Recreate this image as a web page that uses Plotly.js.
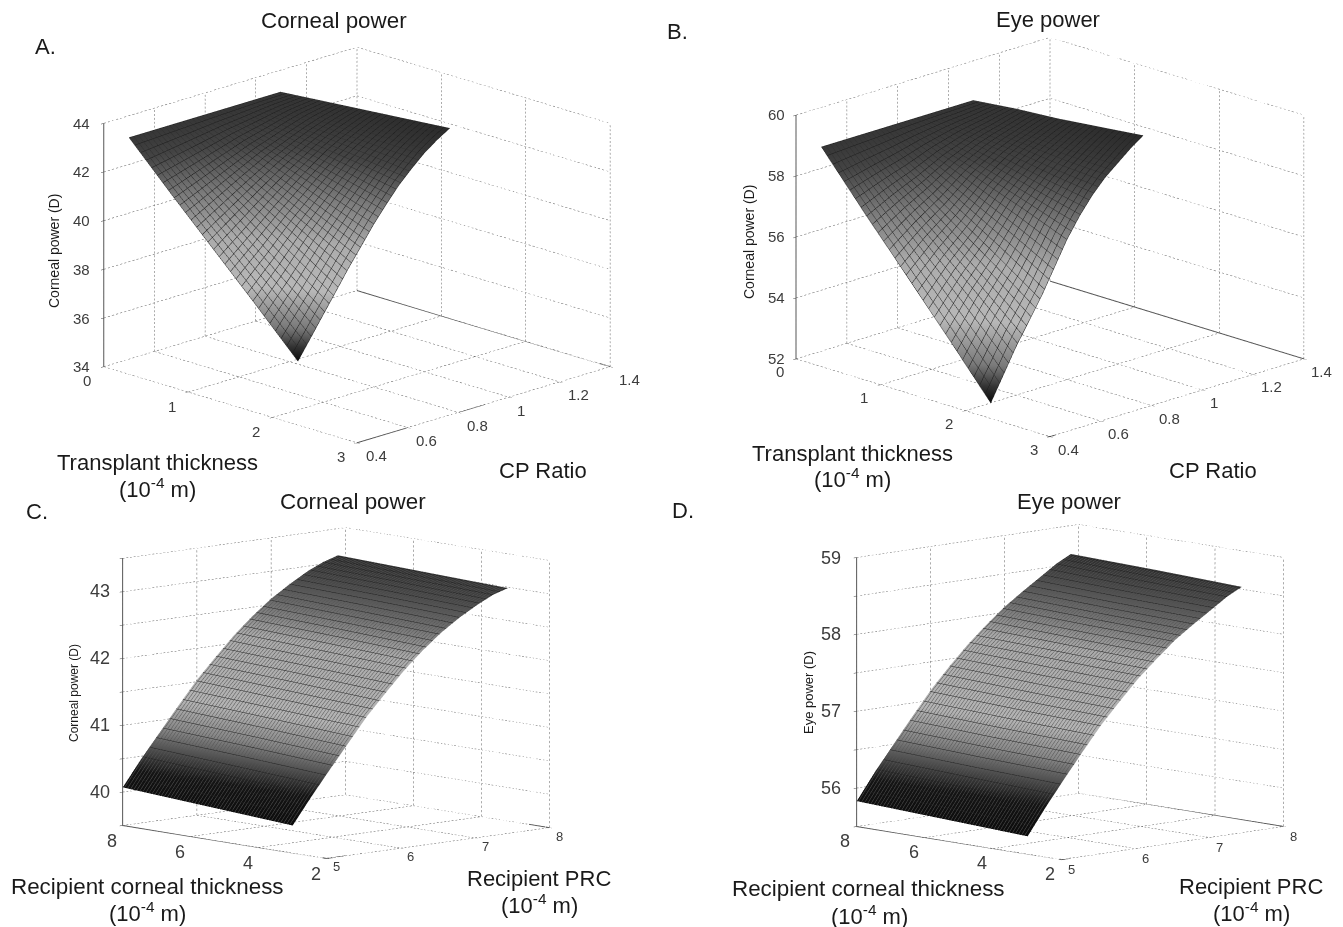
<!DOCTYPE html>
<html><head><meta charset="utf-8">
<script src="https://cdn.plot.ly/plotly-3.0.1.min.js"></script>
<style>html,body{margin:0;padding:0;background:#fff}#chart{width:1343px;height:927px}</style>
</head><body><div id="chart"></div>
<script>
// ---- data ----
const thicknessAB = [0, 0.5, 1, 1.5, 2];
const ratioAB = [0.5,0.55,0.6,0.65,0.7,0.75,0.8,0.85,0.9,0.95,1.0,1.05,1.1];
const cornealA = [
 [43.1,43.1,43.1,43.1,43.1,43.1,43.1,43.1,43.1,43.1,43.1,43.1,43.1],
 [41.3,41.5,41.7,41.9,42.1,42.3,42.5,42.65,42.8,42.96,43.1,43.18,43.25],
 [39.55,39.95,40.35,40.75,41.15,41.53,41.9,42.23,42.55,42.82,43.05,43.25,43.4],
 [37.8,38.38,38.95,39.58,40.2,40.75,41.3,41.82,42.3,42.67,43.0,43.3,43.55],
 [36.0,36.8,37.6,38.4,39.2,39.95,40.7,41.37,42.0,42.52,43.0,43.38,43.7]];
const eyeB = [
 [58.7,58.7,58.7,58.7,58.7,58.7,58.7,58.7,58.7,58.7,58.7,58.7,58.7],
 [57.0,57.2,57.4,57.58,57.75,57.95,58.15,58.3,58.45,58.56,58.65,58.76,58.85],
 [55.35,55.75,56.15,56.5,56.85,57.25,57.65,57.97,58.25,58.47,58.65,58.82,58.95],
 [53.7,54.3,54.9,55.42,55.95,56.55,57.15,57.6,58.0,58.32,58.6,58.87,59.1],
 [52.0,52.8,53.6,54.3,55.0,55.8,56.6,57.25,57.8,58.25,58.6,58.95,59.25]];
const thicknessCD = [3, 5.5, 8];
const prcCD = [5,5.25,5.5,5.75,6,6.25,6.5,6.75,7,7.25,7.5,7.7,7.9];
const cornealC = [
 [39.91,40.30,40.67,41.03,41.39,41.70,42.0,42.26,42.49,42.68,42.84,42.95,43.02],
 [39.99,40.38,40.75,41.11,41.46,41.77,42.06,42.32,42.54,42.73,42.89,42.99,43.06],
 [40.07,40.46,40.82,41.18,41.53,41.83,42.12,42.37,42.59,42.77,42.93,43.03,43.1]];
const eyeD = [
 [55.73,56.08,56.41,56.73,57.04,57.31,57.57,57.79,58.0,58.17,58.33,58.46,58.56],
 [55.78,56.13,56.45,56.77,57.08,57.35,57.61,57.83,58.03,58.2,58.36,58.49,58.6],
 [55.83,56.18,56.5,56.82,57.13,57.40,57.65,57.87,58.07,58.24,58.4,58.53,58.63]];
const xTicksAB = [0,1,2,3];
const yTicksAB = [0.4,0.6,0.8,1,1.2,1.4];
const zTicksA = [34,36,38,40,42,44];
const zTicksB = [52,54,56,58,60];
const xTicksCD = [2,4,6,8];
const yTicksCD = [5,6,7,8];
const zTicksC = [39.5,40,40.5,41,41.5,42,42.5,43,43.5];
const zLabelsC = ['','40','','41','','42','','43',''];
const zTicksD = [55.5,56,56.5,57,57.5,58,58.5,59];
const zLabelsD = ['','56','','57','','58','','59'];

// ---- styling / layout ----
const W=1343,H=927;
const FONT='"Liberation Sans", Arial, sans-serif';
const darkBands=[[0,'#0c0c0c'],[0.06,'#333'],[0.14,'#7a7a7a'],[0.3,'#b8b8b8'],[0.5,'#acacac'],[0.68,'#7c7c7c'],[0.84,'#444'],[1,'#2a2a2a']];
const stepBands=[[0,'#0c0c0c'],[0.12,'#141414'],[0.2,'#444'],[0.3,'#888'],[0.42,'#b4b4b4'],[0.7,'#acacac'],[0.82,'#727272'],[0.92,'#484848'],[1,'#2e2e2e']];
const transpose=m=>m[0].map((_,i)=>m.map(r=>r[i]));

const panels=[
 {id:'scene',cx:356.5,cy:245,hw:340,hh:217,eye:[1,-1,0.446],aspect:[1.65,1.65,1.176],dots:62,
  xv:thicknessAB,yv:ratioAB,z:cornealA,xr:[0,3],yr:[0.4,1.4],zr:[34,44],
  xt:xTicksAB,yt:yTicksAB,zt:zTicksA,zl:zTicksA.map(String),cs:darkBands,
  nx:2/30,ny:0.6/34,cx1:'#1c1c1c',cy1:'#303030',
  sx:[-16,-14],sy:[7,-13],sz:-11,fx:15,fy:15,fz:15},
 {id:'scene2',cx:1049.5,cy:236.5,hw:293,hh:225,eye:[1,-1,0.455],aspect:[1.596,1.596,1.138],dots:62,
  xv:thicknessAB,yv:ratioAB,z:eyeB,xr:[0,3],yr:[0.4,1.4],zr:[52,60],
  xt:xTicksAB,yt:yTicksAB,zt:zTicksB,zl:zTicksB.map(String),cs:darkBands,
  nx:2/30,ny:0.6/34,cx1:'#1c1c1c',cy1:'#303030',
  sx:[-16,-13],sy:[6,-13],sz:-9,fx:15,fy:15,fz:15},
 {id:'scene3',cx:335.5,cy:692.5,hw:300,hh:230,eye:[0.734,-0.679,0.151],aspect:[1.306,1.319,1.175],dots:60,
  xv:thicknessCD,yv:prcCD,z:cornealC,xr:[8,2],yr:[5,8],zr:[39.5,43.5],
  xt:xTicksCD,yt:yTicksCD,zt:zTicksC,zl:zLabelsC,cs:stepBands,
  nx:0.09,ny:0.09,cx1:'#555',cy1:'#1e1e1e',
  sx:[-10,-16],sy:[5,-9],sz:-10,fx:18,fy:13,fz:18},
 {id:'scene4',cx:1069.5,cy:692,hw:273,hh:230,eye:[0.72,-0.694,0.157],aspect:[1.285,1.338,1.184],dots:60,
  xv:thicknessCD,yv:prcCD,z:eyeD,xr:[8,2],yr:[5,8],zr:[55.5,59],
  xt:xTicksCD,yt:yTicksCD,zt:zTicksD,zl:zLabelsD,cs:stepBands,
  nx:0.09,ny:0.09,cx1:'#555',cy1:'#1e1e1e',
  sx:[-11,-14],sy:[5,-10],sz:-13,fx:18,fy:13,fz:18}
];

const labels=[
 ['A.',45,46,22,0],['Corneal power',334,21,22.4,0],['Transplant thickness',157,462,22,0],['(10<sup>-4</sup> m)',157,488,22,0],['CP Ratio',543,470,22,0],['Corneal power (D)',54,251,14,-90],
 ['B.',677,32,22,0],['Eye power',1048,19,22,0],['Transplant thickness',852,453,22,0],['(10<sup>-4</sup> m)',852,478,22,0],['CP Ratio',1213,470,22,0],['Corneal power (D)',749,242,14,-90],
 ['C.',37,512,22,0],['Corneal power',353,501,22.4,0],['Recipient corneal thickness',147,886,22.4,0],['(10<sup>-4</sup> m)',147,912,22,0],['Recipient PRC',539,878,22,0],['(10<sup>-4</sup> m)',539,904,22,0],['Corneal power (D)',74,693,12,-90],
 ['D.',683,510,22,0],['Eye power',1069,501,22,0],['Recipient corneal thickness',868,888,22.4,0],['(10<sup>-4</sup> m)',869,915,22,0],['Recipient PRC',1251,886,22,0],['(10<sup>-4</sup> m)',1251,912,22,0],['Eye power (D)',808,693,13,-90]
];

const traces=[];
const layout={width:W,height:H,margin:{l:0,r:0,t:0,b:0,pad:0},paper_bgcolor:'#fff',showlegend:false,
 annotations:labels.map(([text,x,y,size,angle])=>({text,x:x/W,y:1-y/H,xref:'paper',yref:'paper',xanchor:'center',yanchor:'middle',showarrow:false,textangle:angle,font:{family:FONT,size,color:'#1a1a1a'}}))};

panels.forEach(p=>{
 traces.push({type:'surface',scene:p.id,x:p.xv,y:p.yv,z:transpose(p.z),colorscale:p.cs,showscale:false,hoverinfo:'skip',
  lighting:{ambient:1,diffuse:0,specular:0,roughness:1,fresnel:0},
  contours:{x:{show:true,start:p.xv[0],end:p.xv[p.xv.length-1],size:p.nx,color:p.cx1,width:1,highlight:false},
            y:{show:true,start:p.yv[0],end:p.yv[p.yv.length-1],size:p.ny,color:p.cy1,width:1,highlight:false},
            z:{highlight:false}}});
 const [x0,x1]=p.xr,[y0,y1]=p.yr,[z0,z1]=p.zr;
 const gx=[],gy=[],gz=[];
 // each grid line of the walls and floor is drawn as a row of short dots
 const seg=(a,b)=>{for(let i=0;i<p.dots;i++){const s=i/p.dots,e=(i+0.5)/p.dots;
   const at=t=>a.map((v,d)=>v+(b[d]-v)*t);const A=at(s),B=at(e);
   gx.push(A[0],B[0],null);gy.push(A[1],B[1],null);gz.push(A[2],B[2],null);}};
 p.zt.forEach(z=>{seg([x0,y0,z],[x0,y1,z]);seg([x0,y1,z],[x1,y1,z]);});
 p.yt.forEach(y=>{seg([x0,y,z0],[x0,y,z1]);seg([x0,y,z0],[x1,y,z0]);});
 p.xt.forEach(x=>{seg([x,y1,z0],[x,y1,z1]);seg([x,y0,z0],[x,y1,z0]);});
 traces.push({type:'scatter3d',scene:p.id,mode:'lines',x:gx,y:gy,z:gz,hoverinfo:'skip',connectgaps:false,line:{color:'#5a5a5a',width:1}});
 traces.push({type:'scatter3d',scene:p.id,mode:'lines',x:[x0,x0,x1,x1,null,x0,x1],y:[y0,y0,y0,y1,null,y1,y1],z:[z1,z0,z0,z0,null,z0,z0],hoverinfo:'skip',connectgaps:false,line:{color:'#555',width:2}});
 const axis=(range,vals,text)=>({range,autorange:false,tickmode:'array',tickvals:vals,ticktext:text,showticklabels:false,title:{text:''},showgrid:false,zeroline:false,showline:false,showbackground:false,showspikes:false,ticks:'outside',ticklen:4,tickcolor:'#444'});
 // tick labels are scene annotations, anchored at the tick through the scene's own scales
 const tl=(x,y,z,text,xa,sx,sy,size)=>({x,y,z,text,showarrow:false,xanchor:xa,yanchor:'middle',xshift:sx,yshift:sy,font:{family:FONT,size,color:'#3c3c3c'}});
 const sceneNotes=[
  ...p.xt.map(v=>tl(v,y0,z0,String(v),'center',p.sx[0],p.sx[1],p.fx)),
  ...p.yt.map(v=>tl(x1,v,z0,String(v),'left',p.sy[0],p.sy[1],p.fy)),
  ...p.zt.map((v,i)=>tl(x0,y0,v,p.zl[i],'right',p.sz,0,p.fz)).filter(a=>a.text!=='')];
 const n=Math.hypot(...p.eye),k=2;
 layout[p.id]={domain:{x:[(p.cx-p.hw)/W,(p.cx+p.hw)/W],y:[1-(p.cy+p.hh)/H,1-(p.cy-p.hh)/H]},bgcolor:'rgba(0,0,0,0)',
  aspectmode:'manual',aspectratio:{x:p.aspect[0],y:p.aspect[1],z:p.aspect[2]},
  camera:{eye:{x:p.eye[0]/n*k,y:p.eye[1]/n*k,z:p.eye[2]/n*k},center:{x:0,y:0,z:0},up:{x:0,y:0,z:1},projection:{type:'orthographic'}},
  annotations:sceneNotes,
  xaxis:axis(p.xr,p.xt,p.xt.map(String)),yaxis:axis(p.yr,p.yt,p.yt.map(String)),zaxis:axis(p.zr,p.zt,p.zl),dragmode:false};
});
Plotly.newPlot('chart',traces,layout,{staticPlot:false,displayModeBar:false,responsive:false});
</script></body></html>
